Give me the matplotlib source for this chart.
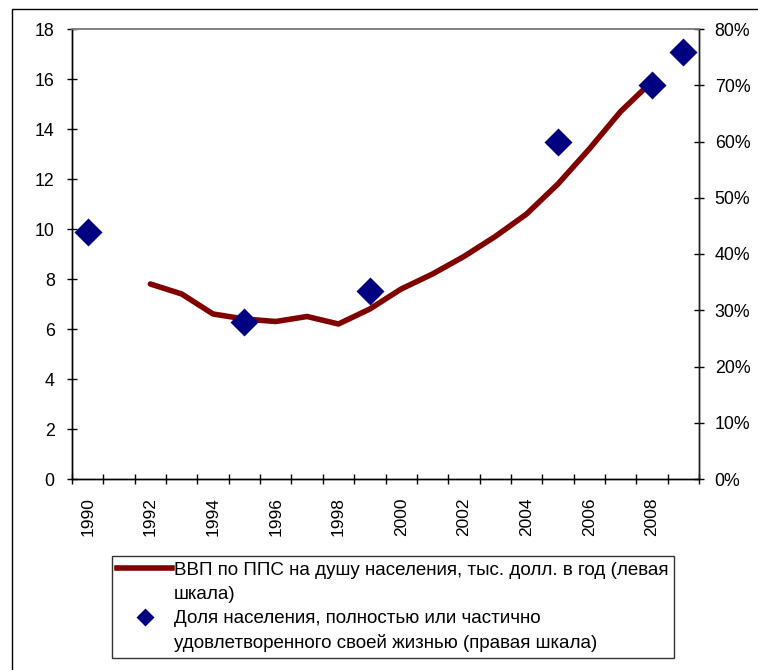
import matplotlib
matplotlib.use("Agg")
import matplotlib.pyplot as plt
from matplotlib.lines import Line2D
from matplotlib.patches import Rectangle
from matplotlib.ticker import FixedLocator, PercentFormatter

plt.rcParams['font.family'] = ['Liberation Sans', 'DejaVu Sans']

# categories (years) on the x axis
years = list(range(1990, 2010))

# GDP per capita (PPP), thousand USD per year (left axis)
gdp_years = [1992, 1993, 1994, 1995, 1996, 1997, 1998, 1999, 2000,
             2001, 2002, 2003, 2004, 2005, 2006, 2007, 2008]
gdp = [7.8, 7.4, 6.6, 6.4, 6.3, 6.5, 6.2, 6.8, 7.6,
       8.2, 8.9, 9.7, 10.6, 11.8, 13.2, 14.7, 15.9]

# share of population satisfied with life (right axis)
sat_years = [1990, 1995, 1999, 2005, 2008, 2009]
sat = [0.44, 0.28, 0.335, 0.60, 0.70, 0.76]

label_gdp = "ВВП по ППС на душу населения, тыс. долл. в год (левая"
label_gdp2 = "шкала)"
label_sat = "Доля населения, полностью или частично"
label_sat2 = "удовлетворенного своей жизнью (правая шкала)"

line_color = "#800000"
dot_color = "#000080"

fig = plt.figure(figsize=(7.58, 6.70), dpi=100)
ax = fig.add_axes([72/758, 1-479/670, (699-72)/758, (479-29)/670])
ax2 = ax.twinx()

def xpos(y):
    return years.index(y) + 0.5

ax.plot([xpos(y) for y in gdp_years], gdp, color=line_color, lw=4,
        solid_joinstyle='round', solid_capstyle='round', zorder=3)
ax2.plot([xpos(y) for y in sat_years], sat, ls='none', marker='D',
         ms=14.5, mec='none', color=dot_color, zorder=4, clip_on=False)

ax.set_xlim(0, len(years))
ax.set_ylim(0, 18)
ax2.set_ylim(0, 0.8)

ax.set_yticks(range(0, 19, 2))
ax2.set_yticks([i/10 for i in range(9)])
ax2.yaxis.set_major_formatter(PercentFormatter(xmax=1, decimals=0))

# category boundaries as major ticks, labels on every other category centre
ax.xaxis.set_major_locator(FixedLocator(range(len(years) + 1)))
ax.set_xticklabels([])
ax.xaxis.set_minor_locator(FixedLocator([xpos(y) for y in years[::2]]))
ax.set_xticklabels([str(y) for y in years[::2]], minor=True, rotation=90,
                   va='top', ha='center')

ax.tick_params(axis='x', which='major', direction='inout', length=7, width=1)
ax.tick_params(axis='x', which='minor', length=0, pad=13, labelsize=12.5)
ax.tick_params(axis='y', direction='inout', length=7, width=1, pad=9,
               labelsize=12.8)
ax2.tick_params(axis='y', direction='inout', length=7, width=1, pad=7.8,
                labelsize=12.8)

for a in (ax, ax2):
    a.spines['top'].set_color('#808080')
    a.spines['top'].set_linewidth(1.2)
    a.spines['left'].set_linewidth(1)
    a.spines['right'].set_linewidth(1)
    a.spines['bottom'].set_linewidth(1)
ax2.spines['right'].set_color('#202020')

# outer chart border (runs off the right and bottom edges)
fig.add_artist(Rectangle((12/758, -0.5), 2, 0.5 + 1 - 9/670,
                         transform=fig.transFigure, fill=False,
                         edgecolor='black', lw=1))

blank = Line2D([], [], ls='none', marker='none')
handles = [Line2D([], [], color=line_color, lw=4),
           blank,
           Line2D([], [], ls='none', marker='D', ms=9.5, mec='none',
                  color=dot_color),
           blank]
labels = [label_gdp, label_gdp2, label_sat, label_sat2]
leg = fig.legend(handles, labels, loc='center',
                 bbox_to_anchor=(393/758, 1-607/670), frameon=True,
                 fancybox=False, fontsize=13.5, handlelength=2.9,
                 handletextpad=0.12, labelspacing=0.38, borderpad=0.3,
                 borderaxespad=0)
leg.get_frame().set_edgecolor('black')
leg.get_frame().set_linewidth(1)

fig.savefig("out.png", dpi=100)
